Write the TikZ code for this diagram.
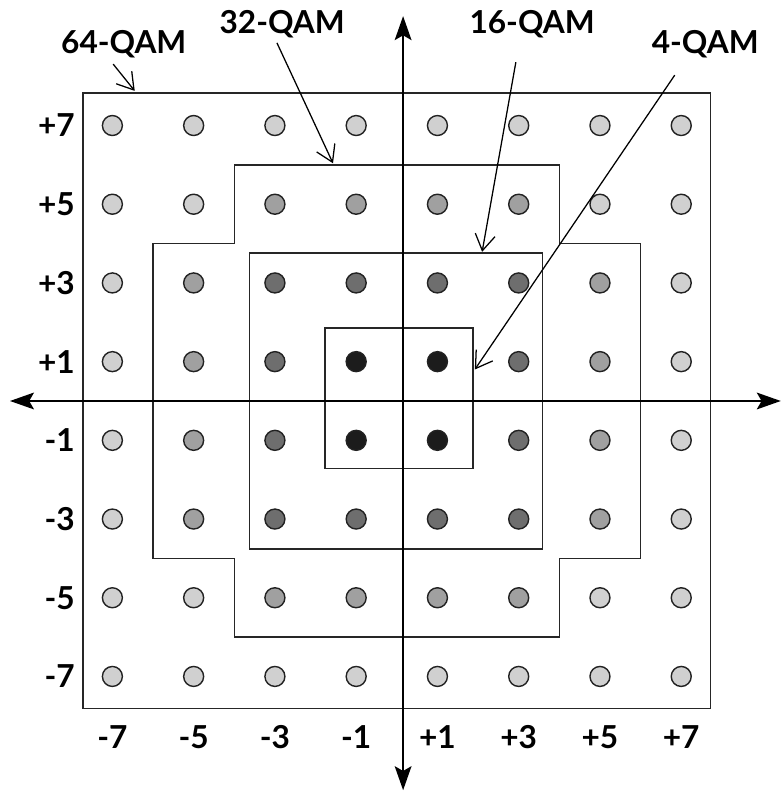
\documentclass[tikz,border=0pt]{standalone}
\usepackage{fontspec}
\setmainfont{Lato}
\usepackage{xcolor}
\definecolor{ring0}{RGB}{208,208,208}
\definecolor{ring1}{RGB}{160,160,160}
\definecolor{ring2}{RGB}{110,110,110}
\definecolor{ring3}{RGB}{28,28,28}
\definecolor{rim}{RGB}{34,34,34}
\usepackage{tikz}
\usetikzlibrary{arrows.meta}

\begin{document}
\begin{tikzpicture}[
  x=1.016cm, y=0.984cm,
  dot/.style={circle, draw=rim, line width=1pt, minimum size=0.5cm,
              inner sep=0pt},
  region/.style={draw=black!85, line width=1.1pt},
  axis/.style={black, line width=1.1pt,
               {Stealth[length=6mm,width=4.2mm,inset=1.2mm]}-{Stealth[length=6mm,width=4.2mm,inset=1.2mm]}},
  tag/.style={font=\fontsize{22.5}{27}\selectfont\bfseries, inner sep=0pt},
  ptr/.style={-{Straight Barb[length=4mm,width=5mm]}, line width=0.9pt},
]
\useasboundingbox (-9.766,-9.911) rectangle (9.471,10.19);

% Regions
\draw[region] (-7.72,-7.81) rectangle (7.72,7.82);
\draw[region] (-4,6) -- (4,6) -- (4,4) -- (6,4) -- (6,-4) -- (4,-4) -- (4,-6)
  -- (-4,-6) -- (-4,-4) -- (-6,-4) -- (-6,4) -- (-4,4) -- cycle;
\draw[region] (-3.62,-3.76) rectangle (3.59,3.76);
\draw[region] (-1.77,-1.71) rectangle (1.88,1.85);

% Axes
\coordinate (west) at (-9.52,0);
\coordinate (east) at (9.45,0);
\coordinate (north) at (0.155,9.78);
\coordinate (south) at (0.155,-9.89);
\draw[axis] (west) -- (east);
\draw[axis] (south) -- (north);

% Constellation points
\foreach \i in {-7,-5,...,7}
  \foreach \j in {-7,-5,...,7} {
    \pgfmathtruncatemacro\m{max(abs(\i),abs(\j))}
    \pgfmathtruncatemacro\n{min(abs(\i),abs(\j))}
    \pgfmathtruncatemacro\lvl{\m==1 ? 3 : (\m==3 ? 2 : ((\m==5 && \n<5) ? 1 : 0))}
    \node[dot, fill=ring\lvl] (p\i\j) at (\i,\j) {};
  }

% Axis labels
\foreach \j/\t in {7/+7,5/+5,3/+3,1/+1,-1/-1,-3/-3,-5/-5,-7/-7}
  \node[tag, anchor=east] (row\j) at (-7.92,\j) {\t};
\foreach \i/\t in {-7/-7,-5/-5,-3/-3,-1/-1,1/+1,3/+3,5/+5,7/+7}
  \node[tag] (col\i) at (\i,-8.54) {\t};

% Titles
\node[tag, anchor=base] (t64) at (-6.72,8.836) {64-QAM};
\node[tag, anchor=base] (t32) at (-2.82,9.34) {32-QAM};
\node[tag, anchor=base] (t16) at (3.33,9.34) {16-QAM};
\node[tag, anchor=base] (t4) at (7.59,8.836) {4-QAM};

% Pointers
\coordinate (a64) at (-6.98,8.56);  \coordinate (b64) at (-6.45,7.88);
\coordinate (a32) at (-2.95,9.10);  \coordinate (b32) at (-1.57,6.04);
\coordinate (a16) at (2.93,8.61);   \coordinate (b16) at (2.10,3.79);
\coordinate (a4) at (6.84,8.28);    \coordinate (b4) at (1.92,0.80);
\draw[ptr] (a64) -- (b64);
\draw[ptr] (a32) -- (b32);
\draw[ptr] (a16) -- (b16);
\draw[ptr] (a4) -- (b4);

\end{tikzpicture}
\end{document}
